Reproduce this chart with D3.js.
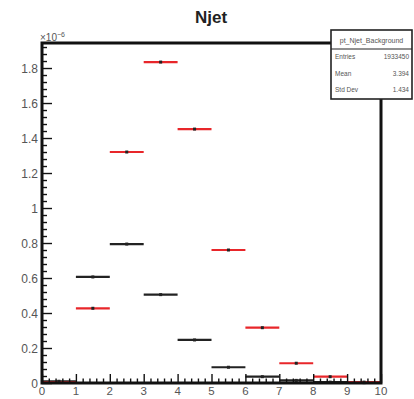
<!DOCTYPE html>
<html>
<head>
<meta charset="utf-8">
<script src="https://cdn.jsdelivr.net/npm/d3@7"></script>
<style>
  html, body { margin: 0; padding: 0; background: #fff; }
  svg { display: block; font-family: "Liberation Sans", Arial, sans-serif; }
</style>
</head>
<body>
<svg id="chart" width="414" height="399"></svg>
<script>
// Njet distributions, in units of 1e-6, one value per unit-wide bin
const binEdges = [0, 1, 2, 3, 4, 5, 6, 7, 8, 9, 10];
const backgroundValues = [0.010, 0.606, 0.794, 0.505, 0.246, 0.090, 0.036, 0.015, 0.005, 0.002];
const signalValues     = [0.004, 0.427, 1.320, 1.834, 1.451, 0.760, 0.316, 0.113, 0.036, 0.005];
const xTickLabels = ["0", "1", "2", "3", "4", "5", "6", "7", "8", "9", "10"];
const yTickValues = [0, 0.2, 0.4, 0.6, 0.8, 1.0, 1.2, 1.4, 1.6, 1.8];
const yTickLabels = ["0", "0.2", "0.4", "0.6", "0.8", "1", "1.2", "1.4", "1.6", "1.8"];
const statsNames  = ["Entries", "Mean", "Std Dev"];
const statsValues = ["1933450", "3.394", "1.434"];
const statsTitle = "pt_Njet_Background";

const svg = d3.select("#chart");
const frame = { left: 42, right: 381, top: 43, bottom: 383 };

const x = d3.scaleLinear().domain([0, 10]).range([frame.left, frame.right]);
const y = d3.scaleLinear().domain([0, 1.943]).range([frame.bottom, frame.top]);

// Title
svg.append("text")
  .attr("x", 211).attr("y", 23)
  .attr("text-anchor", "middle")
  .attr("font-size", 17).attr("font-weight", "bold")
  .attr("fill", "#222")
  .text("Njet");

// Histogram markers: horizontal bin-width line with a small centre point
function drawHist(values, color, lineW) {
  const g = svg.append("g");
  values.forEach((v, i) => {
    const x0 = x(binEdges[i]), x1 = x(binEdges[i + 1]);
    g.append("line")
      .attr("x1", x0).attr("x2", x1)
      .attr("y1", y(v)).attr("y2", y(v))
      .attr("stroke", color).attr("stroke-width", lineW);
    g.append("rect")
      .attr("x", (x0 + x1) / 2 - 1.5).attr("y", y(v) - 1.5)
      .attr("width", 3).attr("height", 3)
      .attr("fill", "#222");
  });
}
drawHist(backgroundValues, "#222", 2.2);
drawHist(signalValues, "#e8262a", 2.2);

// X axis ticks pointing up into the frame
const xAxis = d3.axisBottom(x)
  .tickValues(d3.range(0, 10.001, 0.2))
  .tickSizeInner(0).tickSizeOuter(0)
  .tickFormat("");
const gx = svg.append("g").attr("transform", `translate(0,${frame.bottom})`).call(xAxis);
gx.select(".domain").remove();
gx.selectAll(".tick line")
  .attr("y2", d => (Math.abs(d - Math.round(d)) < 1e-6 ? -9 : -4.5))
  .attr("stroke", "#111").attr("stroke-width", 1.4);
binEdges.forEach((b, i) => {
  svg.append("text")
    .attr("x", x(b)).attr("y", 395)
    .attr("text-anchor", "middle")
    .attr("font-size", 11.5).attr("fill", "#555")
    .text(xTickLabels[i]);
});

// Y axis ticks pointing right into the frame
const yAxis = d3.axisLeft(y)
  .tickValues(d3.range(0, 1.9401, 0.04))
  .tickSizeInner(0).tickSizeOuter(0)
  .tickFormat("");
const gy = svg.append("g").attr("transform", `translate(${frame.left},0)`).call(yAxis);
gy.select(".domain").remove();
gy.selectAll(".tick line")
  .attr("x2", d => (Math.abs(d * 5 - Math.round(d * 5)) < 1e-6 ? 10 : 5))
  .attr("stroke", "#111").attr("stroke-width", 1.4);
yTickValues.forEach((v, i) => {
  svg.append("text")
    .attr("x", 38).attr("y", y(v) + 4.5)
    .attr("text-anchor", "end")
    .attr("font-size", 12).attr("fill", "#555")
    .text(yTickLabels[i]);
});

// Exponent label
const expo = svg.append("text")
  .attr("x", 40).attr("y", 41)
  .attr("font-size", 10).attr("fill", "#555");
expo.append("tspan").text("\u00d710");
expo.append("tspan").attr("dy", -4).attr("font-size", 7).text("\u22126");

// Frame
svg.append("rect")
  .attr("x", frame.left).attr("y", frame.top)
  .attr("width", frame.right - frame.left).attr("height", frame.bottom - frame.top)
  .attr("fill", "none").attr("stroke", "#111").attr("stroke-width", 3);

// Statistics box
const box = { x: 331, y: 30, w: 81, h: 69, titleH: 19 };
const sb = svg.append("g");
sb.append("rect")
  .attr("x", box.x).attr("y", box.y).attr("width", box.w).attr("height", box.h)
  .attr("fill", "#fff").attr("stroke", "#222").attr("stroke-width", 1.6);
sb.append("line")
  .attr("x1", box.x).attr("x2", box.x + box.w)
  .attr("y1", box.y + box.titleH).attr("y2", box.y + box.titleH)
  .attr("stroke", "#222").attr("stroke-width", 1.2);
sb.append("text")
  .attr("x", box.x + box.w / 2).attr("y", box.y + 13)
  .attr("text-anchor", "middle").attr("font-size", 7).attr("fill", "#555")
  .text(statsTitle);
statsNames.forEach((name, i) => {
  const ty = box.y + box.titleH + 10 + i * 16.5;
  sb.append("text").attr("x", box.x + 4).attr("y", ty)
    .attr("font-size", 6.5).attr("fill", "#555").text(name);
  sb.append("text").attr("x", box.x + box.w - 3).attr("y", ty)
    .attr("text-anchor", "end").attr("font-size", 6.5).attr("fill", "#555").text(statsValues[i]);
});
</script>
</body>
</html>
